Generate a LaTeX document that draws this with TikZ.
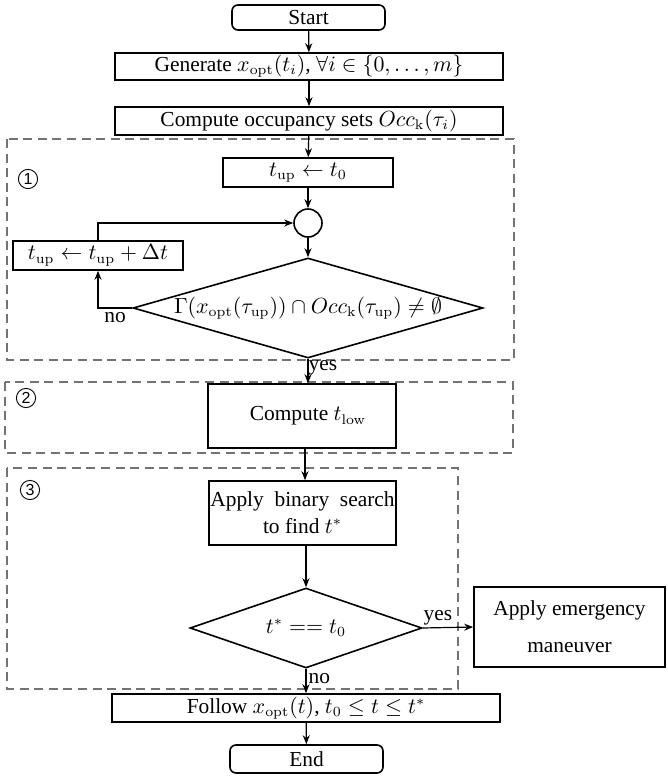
\documentclass[tikz,border=0pt]{standalone}
\usepackage[no-math]{fontspec}
\setmainfont{Liberation Serif}
\setsansfont{Liberation Sans}
\usetikzlibrary{shapes.geometric,arrows.meta}
\tikzset{
  box/.style={draw, line width=0.8pt, inner sep=0pt, align=center},
  term/.style={box, rounded corners=3pt},
  dec/.style={draw, line width=0.8pt, diamond, inner sep=0pt, aspect=3.6},
  junc/.style={draw, line width=0.8pt, circle, inner sep=0pt, minimum size=14pt},
  conn/.style={line width=0.6pt, -{Stealth[length=4.5pt,width=3.5pt]}},
  groupbox/.style={draw=black!55, line width=0.8pt, dash pattern=on 4.5pt off 2.8pt},
  circnum/.style={draw, circle, line width=0.45pt, inner sep=0pt, minimum size=9.6pt,
    font=\sffamily\fontsize{8}{8}\selectfont},
  lbl/.style={inner sep=1pt}
}
\begin{document}
\begin{tikzpicture}[x=0.5pt,y=-0.5pt, font=\fontsize{10.7}{12.5}\selectfont]
\useasboundingbox (0,0) rectangle (668,777);
% group boxes
\draw[groupbox] (7,139) rectangle (514,360);
\draw[groupbox] (5,382) rectangle (513,453);
\draw[groupbox] (7,468) rectangle (458,689);
\node[circnum] (c1) at (28,179) {1};
\node[circnum] (c2) at (26,398) {2};
\node[circnum] (c3) at (30,490) {3};
% nodes
\node[term, minimum width=76.5pt, minimum height=12.5pt] (start) at (308.5,17.5) {Start};
\node[box, minimum width=194pt, minimum height=13.5pt] (gen) at (309,66.5) {Generate $x_{\mathrm{opt}}(t_i)$, $\forall i \in \{0,\dots,m\}$};
\node[box, minimum width=194pt, minimum height=14pt] (occ) at (309,121) {Compute occupancy sets $Occ_{\mathrm{k}}(\tau_i)$};
\node[box, minimum width=85pt, minimum height=14.5pt] (tup0) at (308,172.5) {$t_{\mathrm{up}} \leftarrow t_0$};
\node[junc] (circ) at (308,223) {};
\node[box, minimum width=85pt, minimum height=14.5pt] (inc) at (98,255.5) {$t_{\mathrm{up}} \leftarrow t_{\mathrm{up}} + \Delta t$};
\node[dec, minimum width=175pt, minimum height=50pt] (d1) at (308,308) {$\Gamma(x_{\mathrm{opt}}(\tau_{\mathrm{up}})) \cap Occ_{\mathrm{k}}(\tau_{\mathrm{up}}) \neq \emptyset$};
\node[box, minimum width=94pt, minimum height=32pt] (tlow) at (302,416) {\hspace{6pt}Compute $t_{\mathrm{low}}$};
\node[box, minimum width=93.5pt, minimum height=32pt] (bin) at (302.5,513) {Apply\ \ binary\ \ search\\[1pt] to find $t^{*}$};
\node[dec, aspect=3, minimum width=116pt, minimum height=40pt] (d2) at (306,628) {$t^{*} == t_0$};
\node[box, minimum width=95.5pt, minimum height=40pt] (emer) at (569.5,627) {Apply emergency\\[6pt] maneuver};
\node[box, minimum width=194pt, minimum height=14pt] (follow) at (306,708) {Follow $x_{\mathrm{opt}}(t)$, $t_0 \leq t \leq t^{*}$};
\node[term, minimum width=76.5pt, minimum height=14pt] (end) at (306.5,759) {End};
% connectors
\draw[conn] (start) -- (gen);
\draw[conn] (gen) -- (occ);
\draw[conn] (occ) -- (tup0);
\draw[conn] (tup0) -- (circ);
\draw[conn] (circ) -- (d1);
\coordinate (nocorner) at (d1.west -| inc.south);
\draw[conn] (d1.west) -- (nocorner) -- (inc.south);
\node[lbl, anchor=north west] (nolbl) at ([xshift=2pt,yshift=-1pt]nocorner) {no};
\draw[conn] (inc.north) |- (circ.west);
\draw[conn] (d1.south) -- node[lbl, right, pos=0.35, xshift=-1pt] {yes} (d1.south |- tlow.north);
\draw[conn] (tlow.south -| 305,0) -- (bin.north -| 305,0);
\draw[conn] (bin.south -| 306,0) -- (d2.north);
\draw[conn] (d2.east) -- node[lbl, above, pos=0.3] {yes} (emer.west);
\draw[conn] (d2.south) -- node[lbl, right, pos=0.4, xshift=0pt] {no} (follow.north);
\draw[conn] (follow) -- (end);
\end{tikzpicture}
\end{document}
